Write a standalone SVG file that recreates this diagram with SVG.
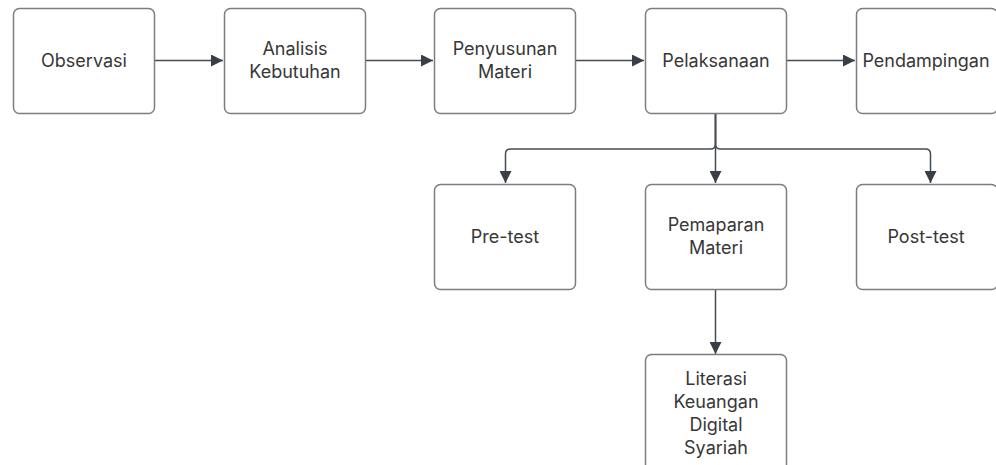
<svg xmlns="http://www.w3.org/2000/svg" width="996" height="465" viewBox="0 0 996 465">
<style>
.box{fill:#fff;stroke:#7b7d80;stroke-width:1.5}
.t{font-family:Inter,"Liberation Sans",sans-serif;font-size:18px;fill:#373737;text-anchor:middle}
.c{fill:none;stroke:#474b53;stroke-width:1.5}
</style>
<defs>
<marker id="ah" markerWidth="12" markerHeight="12" refX="10" refY="5" orient="auto" markerUnits="userSpaceOnUse" viewBox="0 0 10 10">
<path d="M0,0 L10,5 L0,10 Z" fill="#3a3e46"/>
</marker>
</defs>
<rect width="996" height="465" fill="#fff"/>
<g id="connectors">
<path class="c" d="M154,60.5 H223" marker-end="url(#ah)"/>
<path class="c" d="M365,60.5 H433" marker-end="url(#ah)"/>
<path class="c" d="M575,60.5 H644" marker-end="url(#ah)"/>
<path class="c" d="M786,60.5 H855" marker-end="url(#ah)"/>
<path class="c" d="M715.5,113 V183" marker-end="url(#ah)"/>
<path class="c" d="M715.5,113 V144 Q715.5,149 710.5,149 H510.5 Q505.5,149 505.5,154 V183" marker-end="url(#ah)"/>
<path class="c" d="M715.5,113 V144 Q715.5,149 720.5,149 H925.5 Q930.5,149 930.5,154 V183" marker-end="url(#ah)"/>
<path class="c" d="M715.5,289 V354" marker-end="url(#ah)"/>
</g>
<g id="observasi"><rect class="box" x="13.5" y="8.5" width="141" height="105" rx="6"/><text class="t" x="84" y="67">Observasi</text></g>
<g id="analisis"><rect class="box" x="224.5" y="8.5" width="141" height="105" rx="6"/><text class="t" x="295" y="55">Analisis</text><text class="t" x="295" y="78">Kebutuhan</text></g>
<g id="penyusunan"><rect class="box" x="434.5" y="8.5" width="141" height="105" rx="6"/><text class="t" x="505" y="55">Penyusunan</text><text class="t" x="505" y="78">Materi</text></g>
<g id="pelaksanaan"><rect class="box" x="645.5" y="8.5" width="141" height="105" rx="6"/><text class="t" x="716" y="67">Pelaksanaan</text></g>
<g id="pendampingan"><rect class="box" x="856.5" y="8.5" width="141" height="105" rx="6"/><text class="t" x="926" y="67">Pendampingan</text></g>
<g id="pretest"><rect class="box" x="434.5" y="184.5" width="141" height="105" rx="6"/><text class="t" x="505" y="243">Pre-test</text></g>
<g id="pemaparan"><rect class="box" x="645.5" y="184.5" width="141" height="105" rx="6"/><text class="t" x="716" y="231">Pemaparan</text><text class="t" x="716" y="254">Materi</text></g>
<g id="posttest"><rect class="box" x="856.5" y="184.5" width="141" height="105" rx="6"/><text class="t" x="926" y="243">Post-test</text></g>
<g id="literasi"><rect class="box" x="645.5" y="354.5" width="141" height="130" rx="6"/><text class="t" x="716" y="385">Literasi</text><text class="t" x="716" y="408">Keuangan</text><text class="t" x="716" y="431">Digital</text><text class="t" x="716" y="454">Syariah</text></g>
</svg>
